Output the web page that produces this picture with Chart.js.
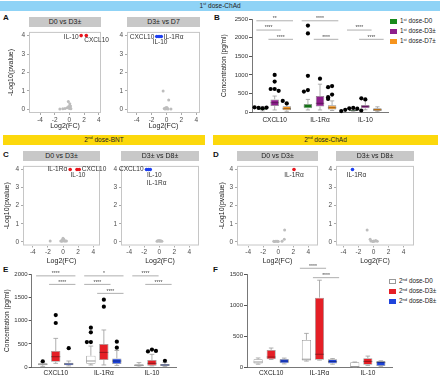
<!DOCTYPE html>
<html>
<head>
<meta charset="utf-8">
<script src="https://cdn.jsdelivr.net/npm/chart.js@4.4.1/dist/chart.umd.min.js"></script>
<style>
body { margin: 0; background: #fff; font-family: "Liberation Sans", Arial, sans-serif; }
#fig { position: relative; width: 440px; height: 380px; overflow: hidden; background: #fff; }
.banner { position: absolute; height: 10px; line-height: 10px; font-size: 6.5px; text-align: center; color: #222; }
.strip { position: absolute; height: 10px; line-height: 10px; font-size: 7px; text-align: center; background: #c8c8c8; color: #222; }
sup { font-size: 4.2px; vertical-align: top; line-height: 5px; position: relative; top: -0.5px; }
.letter { position: absolute; font-weight: bold; font-size: 8px; line-height: 9px; color: #111; }
.leg { position: absolute; font-size: 6.3px; line-height: 8px; color: #222; white-space: nowrap; }
.leg i { display: inline-block; width: 7px; height: 5px; margin-right: 3px; vertical-align: -0.5px; box-sizing: border-box; }
canvas { position: absolute; }
</style>
</head>
<body>
<div id="fig">
  <div class="banner" style="left:0;top:1px;width:440px;background:#8fd3f6">1<sup>st</sup> dose-ChAd</div>
  <div class="banner" style="left:3px;top:135px;width:202px;background:#fcd80c">2<sup>nd</sup> dose-BNT</div>
  <div class="banner" style="left:213px;top:135px;width:225px;background:#fcd80c">2<sup>nd</sup> dose-ChAd</div>

  <div class="letter" style="left:3px;top:13px">A</div>
  <div class="letter" style="left:214px;top:13px">B</div>
  <div class="letter" style="left:3px;top:150px">C</div>
  <div class="letter" style="left:213px;top:150px">D</div>
  <div class="letter" style="left:3px;top:265px">E</div>
  <div class="letter" style="left:213px;top:265px">F</div>

  <div class="leg" style="left:390px;top:17px"><i style="background:#188a1c"></i>1<sup>st</sup> dose-D0</div>
  <div class="leg" style="left:390px;top:27px"><i style="background:#8e1f8c"></i>1<sup>st</sup> dose-D3±</div>
  <div class="leg" style="left:390px;top:37px"><i style="background:#f6941e"></i>1<sup>st</sup> dose-D7±</div>

  <div class="leg" style="left:389px;top:277px"><i style="background:#fff;border:0.8px solid #999"></i>2<sup>nd</sup> dose-D0</div>
  <div class="leg" style="left:389px;top:287px"><i style="background:#e51f26"></i>2<sup>nd</sup> dose-D3±</div>
  <div class="leg" style="left:389px;top:297px"><i style="background:#1f44dc"></i>2<sup>nd</sup> dose-D8±</div>

  <canvas id="a1"></canvas><canvas id="a2"></canvas>
  <canvas id="c1"></canvas><canvas id="c2"></canvas>
  <canvas id="d1"></canvas><canvas id="d2"></canvas>
  <canvas id="b"></canvas><canvas id="e"></canvas><canvas id="f"></canvas>
</div>
<script>
// ---- volcano data: significant genes [log2FC, -log10 p] and the grey rest ----
const A1_GENES = ['IL-10', 'CXCL10'];
const A1_SIG = [[1.6, 4.0], [2.3, 4.0]];
const A1_NS = [[-1.3, 0.02], [-0.9, 0.03], [-0.6, 0.05], [-0.15, 0.42], [0.05, 0.3], [-0.1, 0.15], [0.1, 0.1], [0, 0.05], [0.2, 0.03], [-0.3, 0.08], [0.15, 0.18]];

const A2_GENES = ['CXCL10', 'IL-10', 'IL-1Rα'];
const A2_SIG = [[-1.3, 3.95], [-1.0, 3.95], [-0.7, 3.95]];
const A2_NS = [[-0.45, 1.0], [0.3, 0.5], [-0.3, 0.05], [-0.1, 0.08], [0, 0.03], [0.1, 0.05], [0.2, 0.02], [0.6, 0.02], [-0.2, 0.02], [0.05, 0.1]];

const C1_GENES = ['IL-1Rα', 'IL-10', 'CXCL10'];
const C1_SIG = [[0.95, 4.0], [1.85, 4.0], [2.15, 4.0]];
const C1_NS = [[-1.7, 0.05], [0, 0.2], [-0.1, 0.1], [0.1, 0.15], [0.3, 0.05], [-0.3, 0.05], [0.15, 0.05], [0.45, 0.05], [-0.15, 0.03]];

const C2_GENES = ['CXCL10', 'IL-10', 'IL-1Rα'];
const C2_SIG = [[-1.7, 4.0], [-1.45, 4.0], [-1.2, 4.0]];
const C2_NS = [[-0.3, 0.03], [-0.1, 0.05], [0, 0.08], [0.1, 0.04], [0.2, 0.06], [0.35, 0.03], [-0.2, 0.06]];

const D1_GENES = ['IL-1Rα'];
const D1_SIG = [[2.1, 4.0]];
const D1_NS = [[0.85, 0.65], [0.8, 0.15], [0.5, 0.03], [-0.6, 0.03], [-0.4, 0.03], [-0.2, 0.04], [0.0, 0.02], [-0.5, 0.02], [-0.1, 0.03]];

const D2_GENES = ['IL-1Rα'];
const D2_SIG = [[-2.8, 4.0]];
const D2_NS = [[-0.85, 0.65], [-0.45, 0.15], [-0.35, 0.05], [0, 0.05], [0.15, 0.03], [0.5, 0.03], [0.3, 0.07], [-0.1, 0.02]];

const FC_TICKS = [-4, -2, 0, 2, 4];
const P_TICKS = [0, 1, 2, 3, 4];

// ---- box plot data: [min, q1, median, q3, max] per cytokine ----
const CYTOKINES = ['CXCL10', 'IL-1Rα', 'IL-10'];

const B_D0 = [[30, 55, 90, 130, 150], [55, 100, 160, 215, 340], [5, 20, 40, 70, 95]];
const B_D3 = [[55, 160, 250, 340, 430], [55, 145, 235, 430, 750], [60, 100, 145, 190, 320]];
const B_D7 = [[20, 45, 90, 155, 225], [40, 65, 115, 180, 300], [10, 27, 60, 100, 140]];
const B_D0_OUT = [[100, 110, 120, 125], [2330, 2120, 975, 590, 550], [110, 100, 90, 60, 40, 25]];
const B_D3_OUT = [[1000, 820, 620, 620, 570], [900], [340, 370]];
const B_D7_OUT = [[230, 300], [700, 670, 470, 400, 350], []];
// [cytokine, from group, to group, height, stars]
const B_SIG = [[0, 0, 2, 2460, '**'], [0, 0, 1, 2210, '****'], [0, 1, 2, 1960, '****'],
               [1, 0, 2, 2460, '****'], [1, 1, 2, 1960, '****'],
               [2, 0, 1, 2210, '****'], [2, 1, 2, 1960, '****']];

const E_D0 = [[20, 45, 65, 85, 100], [50, 77, 135, 248, 455], [5, 20, 40, 65, 100]];
const E_D3 = [[85, 120, 227, 350, 620], [50, 155, 320, 500, 800], [30, 35, 85, 157, 278]];
const E_D8 = [[30, 45, 70, 95, 135], [40, 70, 135, 190, 360], [20, 28, 50, 70, 105]];
const E_D0_OUT = [[130], [850, 750, 540, 540], []];
const E_D3_OUT = [[1120, 950], [1450, 1300], [380, 340, 350]];
const E_D8_OUT = [[410], [550, 420], [140]];
const E_SIG = [[0, 0, 2, 1960, '****'], [0, 1, 2, 1777, '****'],
               [1, 0, 2, 1960, '*'], [1, 0, 1, 1777, '****'], [1, 1, 2, 1585, '****'],
               [2, 0, 1, 1960, '****'], [2, 1, 2, 1777, '****']];

const F_D0 = [[50, 60, 85, 130, 150], [100, 110, 130, 440, 545], [5, 8, 12, 80, 85]];
const F_D3 = [[125, 130, 165, 280, 310], [115, 120, 210, 1120, 1400], [30, 40, 95, 145, 180]];
const F_D8 = [[55, 65, 100, 135, 148], [50, 60, 92, 130, 140], [15, 22, 75, 100, 105]];
const F_SIG = [[1, 0, 1, 1592, '****'], [1, 1, 2, 1441, '****']];

Chart.defaults.font.family = '"Liberation Sans", Arial, sans-serif';
Chart.defaults.animation = false;

const RED = '#e8141c', BLUE = '#1d3ff0', GREY_PT = '#bdbdbd';

// where each gene label sits relative to its dot
const LABEL_POS = {
  a1: [{ dx: -2.5, dy: 1.5, align: 'right' }, { dx: -2, dy: 5, align: 'left' }],
  a2: [{ dx: -2.5, dy: 0.5, align: 'right' }, { dx: 1, dy: 6, align: 'center' }, { dx: 2.5, dy: 0.5, align: 'left' }],
  c1: [{ dx: -3, dy: 0, align: 'right' }, { dx: 1, dy: 6, align: 'center' }, { dx: 2.5, dy: 0, align: 'left' }],
  c2: [{ dx: -3, dy: 0, align: 'right' }, { dx: -1.5, dy: 6, align: 'left' }, { dx: -3.5, dy: 14, align: 'left' }],
  d1: [{ dx: 0, dy: 6, align: 'center' }],
  d2: [{ dx: 4, dy: 6, align: 'center' }]
};

function volcano(id, g) {
  const cv = document.getElementById(id);
  const padTop = 3, padRight = 22;
  cv.width = g.yw + g.bw + padRight;
  cv.height = padTop + g.bh + g.xh;
  cv.style.left = (g.bx - g.yw) + 'px';
  cv.style.top = (g.by - padTop) + 'px';

  const deco = {
    id: 'deco',
    beforeDatasetsDraw(chart) {
      const { ctx, chartArea: a } = chart;
      ctx.save();
      ctx.strokeStyle = '#c6c6c6';
      ctx.lineWidth = 1;
      ctx.strokeRect(a.left + 0.5, a.top + 0.5, a.width - 1, a.height - 1);
      ctx.restore();
    },
    afterDatasetsDraw(chart) {
      const { ctx, scales: { x, y } } = chart;
      ctx.save();
      ctx.font = '6.5px "Liberation Sans", Arial, sans-serif';
      ctx.fillStyle = '#333';
      ctx.textBaseline = 'middle';
      g.sig.forEach((p, i) => {
        const pos = LABEL_POS[id][i];
        ctx.textAlign = pos.align;
        ctx.fillText(g.genes[i], x.getPixelForValue(p[0]) + pos.dx, y.getPixelForValue(p[1]) + pos.dy);
      });
      ctx.restore();
    }
  };

  new Chart(cv, {
    type: 'scatter',
    data: {
      datasets: [
        { data: g.ns.map(p => ({ x: p[0], y: p[1] })), pointRadius: 1.5, backgroundColor: GREY_PT, borderWidth: 0 },
        { data: g.sig.map(p => ({ x: p[0], y: p[1] })), pointRadius: 1.8, backgroundColor: g.color, borderWidth: 0 }
      ]
    },
    options: {
      responsive: false,
      events: [],
      layout: { padding: { top: padTop, right: padRight, left: 0, bottom: 0 } },
      plugins: { legend: { display: false }, tooltip: { enabled: false } },
      scales: {
        x: {
          type: 'linear', min: g.xmin, max: g.xmax,
          afterFit: s => { s.height = g.xh; },
          afterBuildTicks: s => { s.ticks = FC_TICKS.map(v => ({ value: v })); },
          grid: { drawOnChartArea: false, tickLength: 2, color: '#aaa' },
          border: { display: false },
          ticks: { font: { size: 6.5 }, color: '#4d4d4d', padding: 1, maxRotation: 0, autoSkip: false },
          title: { display: true, text: 'Log2(FC)', font: { size: 7 }, color: '#222', padding: 0 }
        },
        y: {
          type: 'linear', min: -0.2, max: 4.2,
          afterFit: s => { s.width = g.yw; },
          afterBuildTicks: s => { s.ticks = P_TICKS.map(v => ({ value: v })); },
          grid: { drawOnChartArea: false, tickLength: 2, color: '#aaa' },
          border: { display: false },
          ticks: { font: { size: 6.5 }, color: '#4d4d4d', padding: 2, autoSkip: false },
          title: { display: g.ytitle, text: '-Log10(pvalue)', font: { size: 7 }, color: '#222', padding: 0 }
        }
      }
    },
    plugins: [deco]
  });
}

function strip(g, text) {
  const d = document.createElement('div');
  d.className = 'strip';
  d.style.left = g.bx + 'px';
  d.style.top = (g.by - 12) + 'px';
  d.style.width = g.bw + 'px';
  d.textContent = text;
  document.getElementById('fig').appendChild(d);
}

const VA1 = { bx: 29, by: 29.2, bw: 72, bh: 84.7, yw: 22, xh: 17, xmin: -5.5, xmax: 4.3, ytitle: true, genes: A1_GENES, sig: A1_SIG, ns: A1_NS, color: RED };
const VA2 = { bx: 127, by: 29.2, bw: 73, bh: 84.7, yw: 12, xh: 17, xmin: -5.3, xmax: 4.5, ytitle: false, genes: A2_GENES, sig: A2_SIG, ns: A2_NS, color: BLUE };
const VC1 = { bx: 23, by: 163.3, bw: 77, bh: 82.5, yw: 20, xh: 19.5, xmin: -5.3, xmax: 4.9, ytitle: true, genes: C1_GENES, sig: C1_SIG, ns: C1_NS, color: RED };
const VC2 = { bx: 121, by: 163.3, bw: 78, bh: 82.5, yw: 12, xh: 19.5, xmin: -5.1, xmax: 5.3, ytitle: false, genes: C2_GENES, sig: C2_SIG, ns: C2_NS, color: BLUE };
const VD1 = { bx: 237, by: 163.3, bw: 81, bh: 82.5, yw: 19, xh: 19.5, xmin: -5.5, xmax: 5.3, ytitle: true, genes: D1_GENES, sig: D1_SIG, ns: D1_NS, color: RED };
const VD2 = { bx: 336, by: 163.3, bw: 78, bh: 82.5, yw: 12, xh: 19.5, xmin: -5.0, xmax: 5.4, ytitle: false, genes: D2_GENES, sig: D2_SIG, ns: D2_NS, color: BLUE };

volcano('a1', VA1); strip(VA1, 'D0 vs D3±');
volcano('a2', VA2); strip(VA2, 'D3± vs D7');
volcano('c1', VC1); strip(VC1, 'D0 vs D3±');
volcano('c2', VC2); strip(VC2, 'D3± vs D8±');
volcano('d1', VD1); strip(VD1, 'D0 vs D3±');
volcano('d2', VD2); strip(VD2, 'D3± vs D8±');

// ---- box plots: floating bars for the boxes, whiskers / medians / outliers from the same scales ----
function boxChart(id, g) {
  const cv = document.getElementById(id);
  cv.width = g.w; cv.height = g.h;
  cv.style.left = g.left + 'px';
  cv.style.top = g.top + 'px';

  const deco = {
    id: 'boxdeco',
    afterDatasetsDraw(chart) {
      const { ctx, scales: { y } } = chart;
      ctx.save();
      g.series.forEach((s, di) => {
        const meta = chart.getDatasetMeta(di);
        meta.data.forEach((bar, i) => {
          const [mn, q1, md, q3, mx] = s.stats[i];
          const x = bar.x, hw = bar.width / 2;
          ctx.strokeStyle = '#9a9a9a';
          ctx.lineWidth = 0.8;
          ctx.beginPath();
          ctx.moveTo(x, y.getPixelForValue(q3)); ctx.lineTo(x, y.getPixelForValue(mx));
          ctx.moveTo(x - hw * 0.5, y.getPixelForValue(mx)); ctx.lineTo(x + hw * 0.5, y.getPixelForValue(mx));
          ctx.moveTo(x, y.getPixelForValue(q1)); ctx.lineTo(x, y.getPixelForValue(mn));
          ctx.moveTo(x - hw * 0.5, y.getPixelForValue(mn)); ctx.lineTo(x + hw * 0.5, y.getPixelForValue(mn));
          ctx.stroke();
          ctx.strokeStyle = s.med;
          ctx.lineWidth = 1;
          ctx.beginPath();
          ctx.moveTo(x - hw, y.getPixelForValue(md)); ctx.lineTo(x + hw, y.getPixelForValue(md));
          ctx.stroke();
          // outliers, nudged sideways when they would overlap
          const placed = [];
          ctx.fillStyle = '#000';
          (s.out ? s.out[i] : []).forEach(v => {
            const py = y.getPixelForValue(v);
            const near = placed.filter(p => Math.abs(p - py) < 4).length;
            placed.push(py);
            const dx = near === 0 ? 0 : (near % 2 ? -1 : 1) * Math.ceil(near / 2) * 4;
            ctx.beginPath();
            ctx.arc(x + dx, py, 2.1, 0, Math.PI * 2);
            ctx.fill();
          });
        });
      });
      // significance brackets
      ctx.strokeStyle = '#9a9a9a';
      ctx.lineWidth = 0.8;
      ctx.fillStyle = '#444';
      ctx.font = '5px "Liberation Sans", Arial, sans-serif';
      ctx.textAlign = 'center';
      ctx.textBaseline = 'bottom';
      g.sig.forEach(([c, s1, s2, v, txt]) => {
        const b1 = chart.getDatasetMeta(s1).data[c];
        const b2 = chart.getDatasetMeta(s2).data[c];
        const x1 = b1.x - b1.width / 2 - 2, x2 = b2.x + b2.width / 2 + 2;
        const py = y.getPixelForValue(v);
        ctx.beginPath(); ctx.moveTo(x1, py); ctx.lineTo(x2, py); ctx.stroke();
        ctx.fillText(txt, (x1 + x2) / 2, py + 0.5);
      });
      ctx.restore();
    }
  };

  new Chart(cv, {
    type: 'bar',
    data: {
      labels: CYTOKINES,
      datasets: g.series.map(s => ({
        data: s.stats.map(r => [r[1], r[3]]),
        backgroundColor: s.fill,
        borderColor: s.border,
        borderWidth: 0.8,
        borderSkipped: false,
        categoryPercentage: g.catPct,
        barPercentage: g.barPct
      }))
    },
    options: {
      responsive: false,
      events: [],
      layout: { padding: { top: g.padTop, right: g.padRight, left: 0, bottom: 0 } },
      plugins: { legend: { display: false }, tooltip: { enabled: false } },
      scales: {
        x: {
          afterFit: s => { s.height = g.xh; },
          grid: { display: false, drawTicks: false },
          border: { display: true, color: '#555', width: 0.8 },
          ticks: { font: { size: 6.5 }, color: '#222', padding: g.xpad, maxRotation: 0 }
        },
        y: {
          min: 0, max: g.max,
          afterFit: s => { s.width = g.yw; },
          afterBuildTicks: s => { s.ticks = g.ticks.map(v => ({ value: v })); },
          grid: { drawOnChartArea: false, tickLength: 3, color: '#555' },
          border: { display: true, color: '#555', width: 0.8 },
          ticks: { font: { size: 6 }, color: '#333', padding: 1, callback: v => String(v) },
          title: { display: g.ytitle, text: 'Concentration (pg/ml)', font: { size: 6.5 }, color: '#222', padding: 0 }
        }
      }
    },
    plugins: [deco]
  });
}

boxChart('b', {
  left: 220, top: 10, w: 170, h: 118, yw: 32, xh: 16, padTop: 9.3, padRight: 2, xpad: 4,
  max: 2500, ticks: [0, 500, 1000, 1500, 2000, 2500], ytitle: true, catPct: 0.8, barPct: 0.7,
  series: [
    { stats: B_D0, out: B_D0_OUT, fill: '#188a1c', border: '#8a8a8a', med: 'rgba(0,0,0,0.35)' },
    { stats: B_D3, out: B_D3_OUT, fill: '#8e1f8c', border: '#8a8a8a', med: 'rgba(0,0,0,0.35)' },
    { stats: B_D7, out: B_D7_OUT, fill: '#f6941e', border: '#8a8a8a', med: 'rgba(0,0,0,0.35)' }
  ],
  sig: B_SIG
});

boxChart('e', {
  left: 3, top: 268, w: 175, h: 112, yw: 28.7, xh: 12.7, padTop: 6, padRight: 2, xpad: 2,
  max: 2000, ticks: [0, 500, 1000, 1500, 2000], ytitle: true, catPct: 0.81, barPct: 0.72,
  series: [
    { stats: E_D0, out: E_D0_OUT, fill: '#ffffff', border: '#999', med: '#999' },
    { stats: E_D3, out: E_D3_OUT, fill: '#e51f26', border: '#999', med: 'rgba(0,0,0,0.35)' },
    { stats: E_D8, out: E_D8_OUT, fill: '#1f44dc', border: '#999', med: 'rgba(0,0,0,0.35)' }
  ],
  sig: E_SIG
});

boxChart('f', {
  left: 225, top: 262, w: 169, h: 118, yw: 22, xh: 12.7, padTop: 12, padRight: 2, xpad: 2,
  max: 1500, ticks: [0, 500, 1000, 1500], ytitle: false, catPct: 0.81, barPct: 0.7,
  series: [
    { stats: F_D0, fill: '#ffffff', border: '#999', med: '#999' },
    { stats: F_D3, fill: '#e51f26', border: '#999', med: 'rgba(0,0,0,0.35)' },
    { stats: F_D8, fill: '#1f44dc', border: '#999', med: 'rgba(0,0,0,0.35)' }
  ],
  sig: F_SIG
});
</script>
</body>
</html>
